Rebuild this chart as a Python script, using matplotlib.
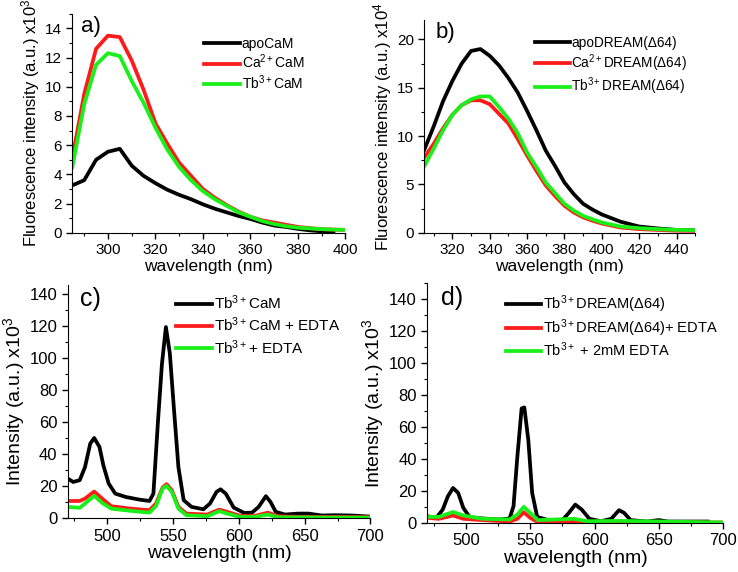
import matplotlib
matplotlib.use("Agg")
import matplotlib.pyplot as plt
from matplotlib.ticker import MultipleLocator

plt.rcParams["font.family"] = ["Liberation Sans", "DejaVu Sans"]
plt.rcParams["mathtext.fontset"] = "custom"
plt.rcParams["mathtext.rm"] = "Liberation Sans"
plt.rcParams["mathtext.it"] = "Liberation Sans:italic"

BLACK = "#000000"
RED = "#ff1a1a"
GREEN = "#19f019"

# ------------------------
# a) CaM intrinsic fluorescence (x10^3)
# ------------------------
a_wl = [285, 290, 295, 300, 305, 310, 315, 320, 325, 330, 335, 340, 345, 350,
        355, 360, 365, 370, 375, 380, 385, 390, 395, 400]
a_apo = [3.25, 3.6, 5.0, 5.55, 5.75, 4.6, 3.9, 3.4, 2.95, 2.6, 2.3, 1.95, 1.65, 1.4,
         1.15, 0.95, 0.7, 0.5, 0.4, 0.27, 0.17, 0.1, 0.07, None]
a_ca = [5.1, 9.5, 12.6, 13.5, 13.4, 11.8, 9.8, 7.5, 6.1, 4.8, 3.9, 3.0, 2.4, 1.9,
        1.45, 1.1, 0.85, 0.7, 0.55, 0.4, 0.32, 0.25, 0.22, 0.2]
a_tb = [4.5, 8.8, 11.5, 12.3, 12.1, 10.4, 8.9, 7.2, 5.7, 4.5, 3.6, 2.85, 2.3, 1.85,
        1.4, 1.1, 0.8, 0.6, 0.45, 0.35, 0.3, 0.25, 0.22, 0.2]

# ------------------------
# b) DREAM(d64) intrinsic fluorescence (x10^4)
# ------------------------
b_wl = [305, 310, 315, 320, 325, 330, 335, 340, 345, 350, 355, 360, 365, 370,
        375, 380, 385, 390, 395, 400, 410, 420, 430, 440, 450]
b_apo = [8.6, 11.0, 13.6, 15.7, 17.5, 18.8, 19.0, 18.3, 17.3, 16.0, 14.5, 12.6, 10.6, 8.5,
         6.9, 5.2, 4.0, 3.0, 2.4, 1.9, 1.15, 0.65, 0.45, 0.3, 0.28]
b_ca = [7.8, 9.2, 10.8, 12.2, 13.2, 13.7, 13.7, 13.3, 12.3, 11.3, 9.7, 8.0, 6.4, 4.9,
        3.8, 2.8, 2.1, 1.6, 1.25, 0.96, 0.55, 0.38, 0.3, 0.22, 0.2]
b_tb = [6.9, 8.7, 10.6, 12.2, 13.2, 13.8, 14.1, 14.1, 13.0, 11.8, 10.3, 8.3, 6.8, 5.2,
        4.1, 3.0, 2.3, 1.75, 1.4, 1.07, 0.65, 0.48, 0.38, 0.3, 0.28]

# ------------------------
# c) Tb3+ luminescence with CaM (x10^3)
# ------------------------
c_wl = [470, 474, 479, 483, 487, 490, 494, 497, 501, 506, 514, 524, 532, 535,
        538.5, 541.5, 544.5, 547.5, 550.5, 554, 558, 564, 573, 578, 583, 586,
        590, 596, 604, 610, 615, 620.5, 624, 628, 635, 645, 653, 663, 673, 686, 700]
c_tbcam = [24.8, 22.7, 23.8, 32, 46.7, 50.2, 44.6, 33, 21.7, 15.4, 13.3, 11.7, 10.8, 15.4,
           61, 96.7, 119.6, 103, 69.6, 32, 11.3, 7.1, 5.6, 9.2, 16.5, 18.1,
           15.4, 6.7, 3.3, 3.5, 7.1, 13.8, 10.2, 4.0, 2.3, 2.9, 2.9, 1.7, 1.9, 1.7, 1.0]
c_wl2 = [470, 479, 483, 490, 496, 503, 518, 532, 537, 542, 545, 549, 554, 560,
         576, 585, 591, 601, 611, 622, 630, 647, 675, 700]
c_tbcam_edta = [10.8, 10.8, 12.3, 16.7, 12.3, 7.5, 6.0, 5.0, 9.2, 19.2, 21.3, 17.5, 7.1, 2.9,
                2.3, 5.4, 4.0, 1.5, 1.25, 3.5, 1.25, 0.8, 0.8, 0.6]
c_tb_edta = [7.1, 6.5, 9.2, 14.0, 9.6, 6.0, 4.6, 3.5, 7.7, 18.5, 20.2, 16.5, 6.0, 1.9,
             1.25, 4.4, 2.9, 0.8, 0.7, 2.3, 0.6, 0.5, 0.4, 0.4]

# ------------------------
# d) Tb3+ luminescence with DREAM(d64) (x10^3)
# ------------------------
d_wl = [470, 477, 482, 486, 490, 494, 498, 503, 513, 526, 534, 537, 540, 543.3,
        545.4, 548.5, 551.5, 555.4, 564, 575, 580, 585, 590, 596, 605, 613,
        619, 623, 628, 641, 650, 657, 672, 688]
d_tbdream = [4.1, 3.1, 8.3, 16.6, 21.8, 18.7, 9.3, 3.5, 2.7, 2.1, 2.7, 10.4, 41.5, 71.6,
             72.2, 51.9, 18.7, 3.7, 1.7, 1.7, 6.2, 11.4, 8.3, 2.5, 1.0, 2.5,
             7.9, 6.2, 1.7, 0.8, 1.7, 0.8, 0.8, 0.8]
d_wl2 = [470, 479, 490, 498, 513, 534, 540, 545, 550, 556, 584, 594, 620, 700]
d_tbdream_edta = [3.1, 2.5, 4.6, 2.5, 1.7, 0.8, 2.5, 6.6, 3.1, 0.4, 0.8, 0.2, 0.4, 0.2]
d_tb_edta = [3.7, 3.7, 6.8, 4.6, 2.5, 2.1, 5.2, 10.0, 6.2, 1.7, 2.5, 1.0, 1.2, 0.2]

LW = 2.7

fig = plt.figure(figsize=(7.38, 5.72), dpi=100)
ax_a = fig.add_axes([0.098, 0.593, 0.370, 0.383])
ax_b = fig.add_axes([0.575, 0.593, 0.367, 0.372])
ax_c = fig.add_axes([0.092, 0.094, 0.410, 0.408])
ax_d = fig.add_axes([0.579, 0.086, 0.401, 0.419])


def style(ax, xmaj, ymaj, fs):
    ax.spines["top"].set_visible(False)
    ax.spines["right"].set_visible(False)
    ax.xaxis.set_major_locator(MultipleLocator(xmaj))
    ax.xaxis.set_minor_locator(MultipleLocator(xmaj / 2))
    ax.yaxis.set_major_locator(MultipleLocator(ymaj))
    ax.yaxis.set_minor_locator(MultipleLocator(ymaj / 2))
    ax.tick_params(which="major", direction="out", length=4, width=1, labelsize=fs)
    ax.tick_params(which="minor", direction="out", length=2.5, width=0.8)


def legend(ax, anchor, fs, spacing, hl):
    ax.legend(loc="upper right", bbox_to_anchor=anchor, frameon=False, fontsize=fs,
              handlelength=hl, handletextpad=0.1, labelspacing=spacing,
              borderaxespad=0.0)


# a)
ax_a.plot(a_wl, a_apo, color=BLACK, lw=LW, label="apoCaM")
ax_a.plot(a_wl, a_ca, color=RED, lw=LW, label="Ca$^{2+}$CaM")
ax_a.plot(a_wl, a_tb, color=GREEN, lw=LW, label="Tb$^{3+}$CaM")
ax_a.set_xlim(285, 400)
ax_a.set_ylim(0, 15)
style(ax_a, 20, 2, 11)
ax_a.set_xlabel("wavelength (nm)", fontsize=12.5, labelpad=1)
ax_a.set_ylabel("Fluorescence intensity (a.u.) x10$^3$", fontsize=12, labelpad=2)
ax_a.text(0.03, 0.99, "a)", transform=ax_a.transAxes, fontsize=16, va="top")
legend(ax_a, (0.87, 0.92), 10, 0.15, 2.6)

# b)
ax_b.plot(b_wl, b_apo, color=BLACK, lw=LW, label="apoDREAM(Δ64)")
ax_b.plot(b_wl, b_ca, color=RED, lw=LW, label="Ca$^{2+}$DREAM(Δ64)")
ax_b.plot(b_wl, b_tb, color=GREEN, lw=LW, label="Tb$^{3+}$DREAM(Δ64)")
ax_b.set_xlim(305, 450)
ax_b.set_ylim(0, 22)
style(ax_b, 20, 5, 11)
ax_b.set_xlabel("wavelength (nm)", fontsize=12.5, labelpad=1)
ax_b.set_ylabel("Fluorescence intensity (a.u.) x10$^4$", fontsize=12, labelpad=2)
ax_b.text(0.04, 0.99, "b)", transform=ax_b.transAxes, fontsize=16, va="top")
legend(ax_b, (0.99, 0.95), 9.8, 0.15, 2.6)

# c)
ax_c.plot(c_wl, c_tbcam, color=BLACK, lw=LW, label="Tb$^{3+}$CaM")
ax_c.plot(c_wl2, c_tbcam_edta, color=RED, lw=LW, label="Tb$^{3+}$CaM + EDTA")
ax_c.plot(c_wl2, c_tb_edta, color=GREEN, lw=LW, label="Tb$^{3+}$+ EDTA")
ax_c.set_xlim(470, 700)
ax_c.set_ylim(0, 146)
style(ax_c, 50, 20, 12)
ax_c.set_xlabel("wavelength (nm)", fontsize=14, labelpad=1)
ax_c.set_ylabel("Intensity (a.u.) x10$^3$", fontsize=14, labelpad=2)
ax_c.text(0.04, 0.99, "c)", transform=ax_c.transAxes, fontsize=18, va="top")
legend(ax_c, (0.92, 0.99), 11, 0.25, 2.4)

# d)
ax_d.plot(d_wl, d_tbdream, color=BLACK, lw=LW, label="Tb$^{3+}$DREAM(Δ64)")
ax_d.plot(d_wl2, d_tbdream_edta, color=RED, lw=LW, label="Tb$^{3+}$DREAM(Δ64)+ EDTA")
ax_d.plot(d_wl2, d_tb_edta, color=GREEN, lw=LW, label="Tb$^{3+}$ + 2mM EDTA")
ax_d.set_xlim(470, 700)
ax_d.set_ylim(0, 150)
style(ax_d, 50, 20, 12)
ax_d.set_xlabel("wavelength (nm)", fontsize=14, labelpad=1)
ax_d.set_ylabel("Intensity (a.u.) x10$^3$", fontsize=14, labelpad=2)
ax_d.text(0.045, 0.99, "d)", transform=ax_d.transAxes, fontsize=18, va="top")
legend(ax_d, (1.0, 0.98), 10.5, 0.12, 2.4)

fig.savefig("out.png", dpi=100)
